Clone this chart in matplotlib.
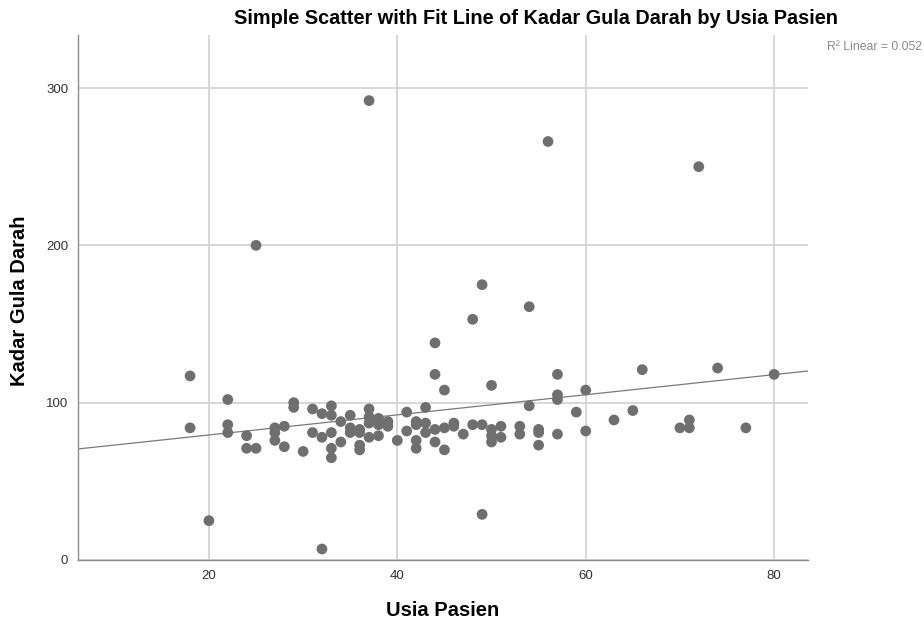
import numpy as np
import matplotlib
matplotlib.use("Agg")
import matplotlib.pyplot as plt

# age (Usia Pasien) and blood sugar (Kadar Gula Darah)
usia = [18, 18, 20, 22, 22, 22, 24, 24, 25, 25,
        27, 27, 27, 28, 28, 29, 29, 30, 31, 31,
        32, 32, 32, 33, 33, 33, 33, 33, 34, 34,
        35, 35, 35, 36, 36, 36, 36, 37, 37, 37,
        37, 37, 38, 38, 38, 39, 39, 40, 41, 41,
        42, 42, 42, 42, 43, 43, 43, 44, 44, 44,
        44, 45, 45, 45, 46, 46, 47, 48, 48, 49,
        49, 49, 50, 50, 50, 50, 51, 51, 53, 53,
        54, 54, 55, 55, 55, 56, 57, 57, 57, 57,
        59, 60, 60, 63, 65, 66, 70, 71, 71, 72,
        74, 77, 80]
gula = [117, 84, 25, 102, 86, 81, 79, 71, 200, 71,
        84, 81, 76, 85, 72, 100, 97, 69, 96, 81,
        93, 78, 7, 98, 92, 81, 71, 65, 88, 75,
        92, 84, 81, 83, 81, 73, 70, 292, 96, 91,
        87, 78, 90, 86, 79, 88, 85, 76, 94, 82,
        88, 86, 76, 71, 97, 87, 81, 138, 118, 83,
        75, 108, 84, 70, 87, 85, 80, 153, 86, 175,
        86, 29, 111, 83, 79, 75, 85, 78, 85, 80,
        161, 98, 83, 81, 73, 266, 118, 105, 102, 80,
        94, 108, 82, 89, 95, 121, 84, 89, 84, 250,
        122, 84, 118]
x_ticks = [20, 40, 60, 80]
y_ticks = [0, 100, 200, 300]
r2_text = "R\u00b2 Linear = 0.052"

plt.rcParams["font.family"] = ["Liberation Sans", "DejaVu Sans"]
GRID = "#d2d2d2"
DOT = "#6f6f6f"

fig = plt.figure(figsize=(9.24, 6.25), dpi=100)
ax = fig.add_axes([0.0844, 0.104, 0.7901, 0.840])

x = np.array(usia, dtype=float)
y = np.array(gula, dtype=float)
xmin, xmax = 6.1, 83.6
ax.set_xlim(xmin, xmax)
ax.set_ylim(0, 333.7)

ax.set_xticks(x_ticks)
ax.set_yticks(y_ticks)
ax.grid(True, color=GRID, linewidth=1.2)
ax.set_axisbelow(True)

ax.scatter(x, y, s=60, color=DOT, edgecolors="none", zorder=3)

# linear fit line across the full x range
b, a = np.polyfit(x, y, 1)
xx = np.array([xmin, xmax])
ax.plot(xx, a + b * xx, color="#7a7a7a", linewidth=0.9, zorder=2)

for s in ("top", "right"):
    ax.spines[s].set_visible(False)
for s in ("left", "bottom"):
    ax.spines[s].set_color("#8c8c8c")
    ax.spines[s].set_linewidth(1.0)
ax.tick_params(length=0, labelsize=9.5, labelcolor="#333333", pad=7)

ax.set_xlabel("Usia Pasien", fontsize=14.5, fontweight="bold")
ax.set_ylabel("Kadar Gula Darah", fontsize=14.5, fontweight="bold")
ax.xaxis.set_label_coords((443 - 78) / 730, -(610 - 560) / 525)
ax.yaxis.set_label_coords(-(78 - 20) / 730, (560 - 301) / 525)
ax.xaxis.label.set_va("center")
ax.yaxis.label.set_va("center")
fig.text(0.580, 0.971, "Simple Scatter with Fit Line of Kadar Gula Darah by Usia Pasien",
         ha="center", va="center", fontsize=14.3, fontweight="bold")
fig.text(0.998, 0.925, r2_text, ha="right", va="center", fontsize=8.8, color="#8a8a8a")

fig.savefig("out.png", dpi=100)
